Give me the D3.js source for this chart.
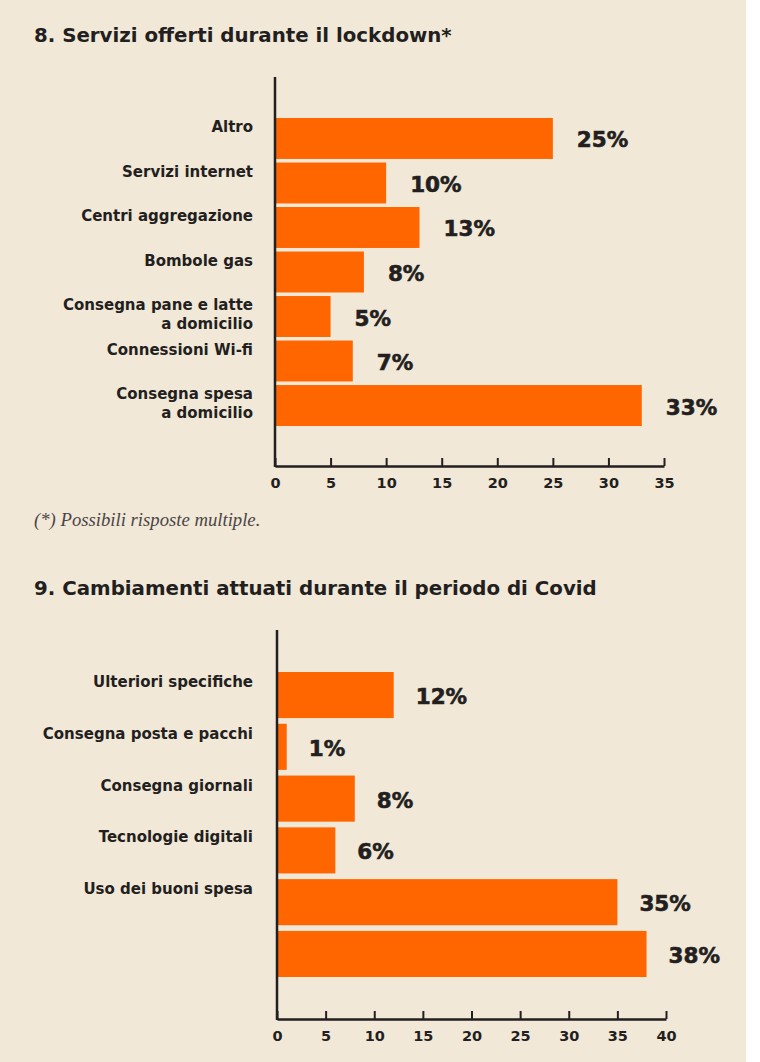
<!DOCTYPE html>
<html><head><meta charset="utf-8">
<script src="https://cdn.jsdelivr.net/npm/d3@7"></script>
<style>
html,body{margin:0;padding:0;background:#fff;}
svg{display:block;}
</style></head>
<body>
<script>
// Chart 8 data
const title1 = "8. Servizi offerti durante il lockdown*";
const categories1 = [["Altro"],["Servizi internet"],["Centri aggregazione"],["Bombole gas"],["Consegna pane e latte","a domicilio"],["Connessioni Wi-fi"],["Consegna spesa","a domicilio"]];
const values1 = [25,10,13,8,5,7,33];
const ticks1 = [0,5,10,15,20,25,30,35];
const note1 = "(*) Possibili risposte multiple.";

// Chart 9 data
const title2 = "9. Cambiamenti attuati durante il periodo di Covid";
const categories2 = [["Ulteriori specifiche"],["Consegna posta e pacchi"],["Consegna giornali"],["Tecnologie digitali"],["Uso dei buoni spesa"],[]];
const values2 = [12,1,8,6,35,38];
const ticks2 = [0,5,10,15,20,25,30,35,40];

const W = 760, H = 1062;
const ink = "#231f20", orange = "#ff6600", bg = "#f1e8d8";
const sans = "'DejaVu Sans', sans-serif";
const numFont = "'DejaVu Sans', sans-serif";

const svg = d3.select("body").append("svg").attr("width", W).attr("height", H);
svg.append("rect").attr("x",0).attr("y",0).attr("width",746).attr("height",H).attr("fill",bg);

function drawChart(cfg){
  const g = svg.append("g");
  g.append("text").attr("x",34).attr("y",cfg.titleY).text(cfg.title)
    .attr("font-family",sans).attr("font-weight",700).attr("font-size",19.8).attr("fill",ink);

  const x = d3.scaleLinear().domain([0, cfg.max]).range([cfg.x0, cfg.x1]);
  const idx = cfg.values.map((d,i)=>i);
  const y = d3.scaleBand().domain(idx).range([cfg.bandTop, cfg.bandBottom]).paddingInner(cfg.padIn).paddingOuter(0);

  g.selectAll("rect.bar").data(cfg.values).join("rect").attr("class","bar")
    .attr("x", x(0)+1).attr("y",(d,i)=>y(i))
    .attr("width", d=>x(d)-x(0)-1).attr("height", y.bandwidth()).attr("fill", orange);

  cfg.cats.forEach((lines,i)=>{
    lines.forEach((ln,j)=>{
      g.append("text").attr("x",253).attr("y", y(i)+cfg.labelDy + j*cfg.lineH)
        .attr("text-anchor","end").text(ln)
        .attr("font-family",sans).attr("font-weight",700).attr("font-size",15).attr("fill",ink);
    });
  });

  g.selectAll("text.val").data(cfg.values).join("text").attr("class","val")
    .attr("x", d=>x(d)+cfg.valDx).attr("y",(d,i)=>y(i)+y.bandwidth()/2+9)
    .text(d=>d+"%")
    .attr("font-family",numFont).attr("font-weight",700).attr("font-size",21.5).attr("fill",ink)
    .attr("stroke",ink).attr("stroke-width",0.6);

  const ax = g.append("g").attr("transform",`translate(0,${cfg.axisY})`)
    .call(d3.axisBottom(x).tickValues(cfg.ticks).tickSize(-8).tickSizeOuter(0).tickPadding(10));
  ax.select(".domain").attr("stroke",ink).attr("stroke-width",2.5);
  ax.selectAll(".tick line").attr("stroke",ink).attr("stroke-width",2);
  ax.selectAll(".tick text").attr("font-family",sans).attr("font-weight",700).attr("font-size",14.5).attr("fill",ink).attr("dy","0.85em");
  g.append("line").attr("x1",x(0)).attr("x2",x(0)).attr("y1",cfg.axisTop).attr("y2",cfg.axisY+1)
    .attr("stroke",ink).attr("stroke-width",2.5);
}

drawChart({title:title1, titleY:42, cats:categories1, values:values1, ticks:ticks1, max:35,
  x0:275, x1:664, bandTop:118, bandBottom:426, padIn:0.08, axisY:466, axisTop:77,
  labelDy:14, lineH:19, valDx:24});

svg.append("text").attr("x",34).attr("y",526).text(note1)
  .attr("font-family","'Liberation Serif', serif").attr("font-style","italic")
  .attr("font-size",18.7).attr("fill","#4a4546");

drawChart({title:title2, titleY:595, cats:categories2, values:values2, ticks:ticks2, max:40,
  x0:277, x1:666, bandTop:672, bandBottom:977, padIn:0.11, axisY:1019, axisTop:630,
  labelDy:15, lineH:19, valDx:22});
</script>
</body></html>
